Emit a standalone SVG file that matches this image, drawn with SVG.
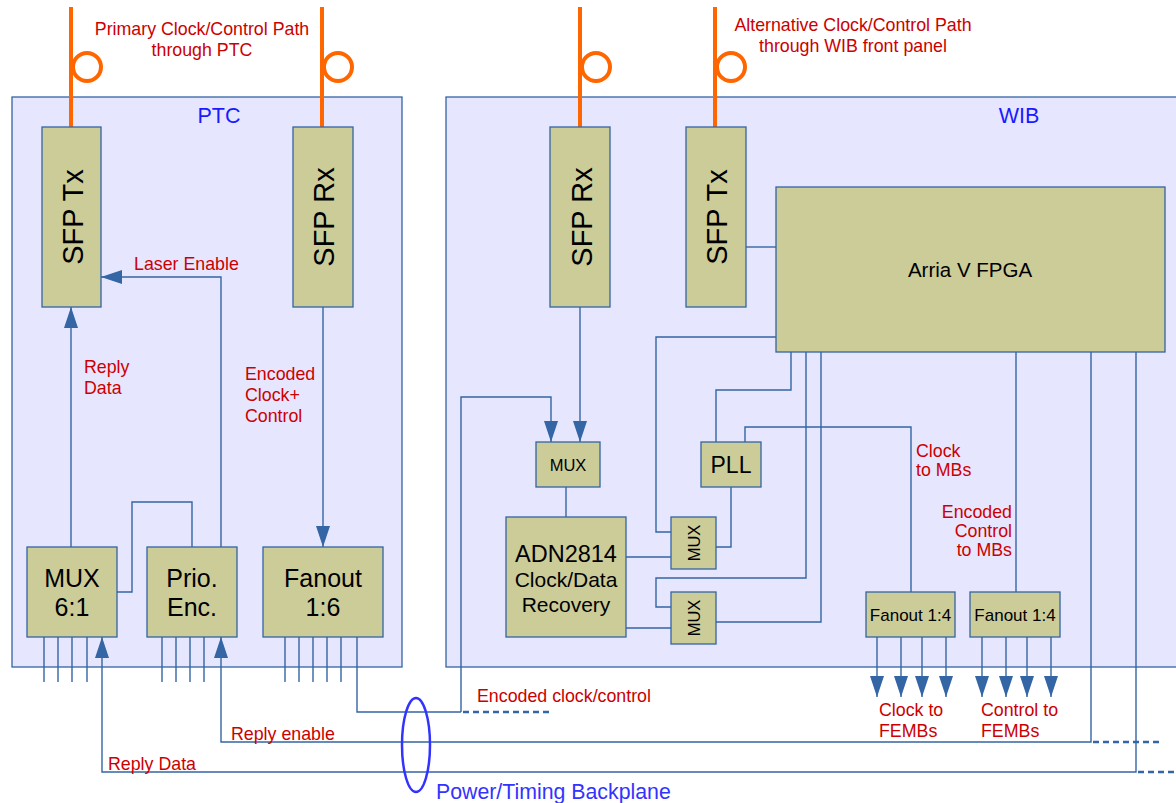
<svg xmlns="http://www.w3.org/2000/svg" width="1176" height="803" viewBox="0 0 1176 803">
<defs>
<style>
.cont{fill:#e6e6ff;stroke:#3465a4;stroke-width:1.3}
.box{fill:#cccc99;stroke:#3465a4;stroke-width:1.3}
.ln{fill:none;stroke:#3465a4;stroke-width:1.4}
.dash{fill:none;stroke:#3465a4;stroke-width:2.6;stroke-dasharray:6 4}
.fiber{fill:none;stroke:#ff6600;stroke-width:4}
.t{font-family:"Liberation Sans",Arial,sans-serif;fill:#000}
.red{font-family:"Liberation Sans",Arial,sans-serif;fill:#cc0000;font-size:17.8px}
.blue{font-family:"Liberation Sans",Arial,sans-serif;fill:#1a1aff}
.mid{text-anchor:middle}
</style>
<marker id="ah" markerUnits="userSpaceOnUse" markerWidth="21" markerHeight="14" refX="21" refY="7" orient="auto">
<path d="M0,0 L21,7 L0,14 z" fill="#3465a4"/>
</marker>
</defs>
<rect width="1176" height="803" fill="#ffffff"/>

<g id="ptc">
<rect class="cont" x="12" y="97" width="390" height="570"/>
<text class="blue mid" x="219" y="123" font-size="21.5">PTC</text>
</g>
<g id="wib">
<rect class="cont" x="446" y="97" width="740" height="570"/>
<text class="blue mid" x="1019" y="123" font-size="21.5">WIB</text>
</g>

<g id="fibers">
<line class="fiber" x1="71" y1="7" x2="71" y2="127"/>
<circle class="fiber" cx="87" cy="67" r="14"/>
<line class="fiber" x1="322" y1="7" x2="322" y2="127"/>
<circle class="fiber" cx="338" cy="67" r="14"/>
<line class="fiber" x1="580" y1="7" x2="580" y2="127"/>
<circle class="fiber" cx="596" cy="67" r="14"/>
<line class="fiber" x1="715" y1="7" x2="715" y2="127"/>
<circle class="fiber" cx="731" cy="67" r="14"/>
</g>

<g id="connectors">
<path class="ln" d="M71,547 V307" marker-end="url(#ah)"/>
<path class="ln" d="M221,547 V277 H101" marker-end="url(#ah)"/>
<path class="ln" d="M117,592 H132 V502 H192 V547"/>
<path class="ln" d="M323,307 V547" marker-end="url(#ah)"/>
<path class="ln" d="M44,637 V682 M58,637 V682 M72,637 V682 M87,637 V682"/>
<path class="ln" d="M162,637 V682 M176,637 V682 M190,637 V682 M204,637 V682"/>
<path class="ln" d="M285,637 V682 M299,637 V682 M313,637 V682 M327,637 V682 M341,637 V682"/>
<path class="ln" d="M357,637 V712 H461"/>
<path class="dash" d="M463,712 H552"/>
<path class="ln" d="M461,712 V397 H551 V442" marker-end="url(#ah)"/>
<path class="ln" d="M580,307 V442" marker-end="url(#ah)"/>
<path class="ln" d="M566,487 V517"/>
<path class="ln" d="M626,557 H671"/>
<path class="ln" d="M626,628 H671"/>
<path class="ln" d="M776,337 H656 V532 H671"/>
<path class="ln" d="M791,352 V390 H716 V442"/>
<path class="ln" d="M806,352 V578 H656 V607 H671"/>
<path class="ln" d="M821,352 V622 H716"/>
<path class="ln" d="M731,487 V547 H716"/>
<path class="ln" d="M745,442 V427 H911 V592"/>
<path class="ln" d="M1016,352 V592"/>
<path class="ln" d="M746,247 H776"/>
<path class="ln" d="M1091,352 V742 H221 V637" marker-end="url(#ah)"/>
<path class="dash" d="M1093,742 H1162"/>
<path class="ln" d="M1136,352 V772 H102 V637" marker-end="url(#ah)"/>
<path class="dash" d="M1138,772 H1176"/>
<path class="ln" d="M877,637 V697" marker-end="url(#ah)"/>
<path class="ln" d="M901,637 V697" marker-end="url(#ah)"/>
<path class="ln" d="M922,637 V697" marker-end="url(#ah)"/>
<path class="ln" d="M946,637 V697" marker-end="url(#ah)"/>
<path class="ln" d="M982,637 V697" marker-end="url(#ah)"/>
<path class="ln" d="M1006,637 V697" marker-end="url(#ah)"/>
<path class="ln" d="M1027,637 V697" marker-end="url(#ah)"/>
<path class="ln" d="M1051,637 V697" marker-end="url(#ah)"/>
</g>

<g id="ptc-sfp-tx">
<rect class="box" x="42" y="127" width="59" height="180"/>
<text class="t mid" font-size="29" transform="translate(83,217) rotate(-90)">SFP Tx</text>
</g>
<g id="ptc-sfp-rx">
<rect class="box" x="293" y="127" width="60" height="180"/>
<text class="t mid" font-size="29" transform="translate(334,217) rotate(-90)">SFP Rx</text>
</g>
<g id="ptc-mux">
<rect class="box" x="27" y="547" width="90" height="90"/>
<text class="t mid" font-size="25" x="72" y="587">MUX</text>
<text class="t mid" font-size="25" x="72" y="616">6:1</text>
</g>
<g id="ptc-prio">
<rect class="box" x="147" y="547" width="90" height="90"/>
<text class="t mid" font-size="25" x="192" y="587">Prio.</text>
<text class="t mid" font-size="25" x="192" y="616">Enc.</text>
</g>
<g id="ptc-fanout">
<rect class="box" x="263" y="547" width="120" height="90"/>
<text class="t mid" font-size="25" x="323" y="587">Fanout</text>
<text class="t mid" font-size="25" x="323" y="616">1:6</text>
</g>

<g id="wib-sfp-rx">
<rect class="box" x="550" y="127" width="60" height="180"/>
<text class="t mid" font-size="29" transform="translate(592,217) rotate(-90)">SFP Rx</text>
</g>
<g id="wib-sfp-tx">
<rect class="box" x="686" y="127" width="60" height="180"/>
<text class="t mid" font-size="29" transform="translate(727,217) rotate(-90)">SFP Tx</text>
</g>
<g id="fpga">
<rect class="box" x="776" y="187" width="389" height="165"/>
<text class="t mid" font-size="20.5" x="970" y="277">Arria V FPGA</text>
</g>
<g id="wib-mux">
<rect class="box" x="536" y="442" width="64" height="45"/>
<text class="t mid" font-size="16.5" x="568" y="471">MUX</text>
</g>
<g id="pll">
<rect class="box" x="701" y="442" width="60" height="45"/>
<text class="t mid" font-size="23" x="731" y="473">PLL</text>
</g>
<g id="adn2814">
<rect class="box" x="506" y="517" width="120" height="120"/>
<text class="t mid" font-size="23.5" x="566" y="562">ADN2814</text>
<text class="t mid" font-size="21" x="566" y="587">Clock/Data</text>
<text class="t mid" font-size="21" x="566" y="612">Recovery</text>
</g>
<g id="mux-upper">
<rect class="box" x="671" y="517" width="45" height="52"/>
<text class="t mid" font-size="16.5" transform="translate(700,543) rotate(-90)">MUX</text>
</g>
<g id="mux-lower">
<rect class="box" x="671" y="592" width="45" height="52"/>
<text class="t mid" font-size="16.5" transform="translate(700,618) rotate(-90)">MUX</text>
</g>
<g id="fanout-clock">
<rect class="box" x="866" y="592" width="89" height="45"/>
<text class="t mid" font-size="17" x="910.5" y="621">Fanout 1:4</text>
</g>
<g id="fanout-control">
<rect class="box" x="970" y="592" width="90" height="45"/>
<text class="t mid" font-size="17" x="1015" y="621">Fanout 1:4</text>
</g>

<g id="backplane">
<ellipse cx="416" cy="745" rx="14" ry="47" fill="none" stroke="#3333ff" stroke-width="2.5"/>
<text x="436" y="799" font-size="21.3" font-family="Liberation Sans, Arial, sans-serif" fill="#3333ff">Power/Timing Backplane</text>
</g>

<g id="labels">
<text class="red mid" x="202" y="35">Primary Clock/Control Path</text>
<text class="red mid" x="202" y="56">through PTC</text>
<text class="red mid" x="853" y="31">Alternative Clock/Control Path</text>
<text class="red mid" x="853" y="52">through WIB front panel</text>
<text class="red" x="134" y="270">Laser Enable</text>
<text class="red" x="84" y="373">Reply</text>
<text class="red" x="84" y="394">Data</text>
<text class="red" x="245" y="380">Encoded</text>
<text class="red" x="245" y="401">Clock+</text>
<text class="red" x="245" y="422">Control</text>
<text class="red" x="231" y="740">Reply enable</text>
<text class="red" x="108" y="770">Reply Data</text>
<text class="red" x="477" y="702">Encoded clock/control</text>
<text class="red" x="916" y="457">Clock</text>
<text class="red" x="916" y="476">to MBs</text>
<text class="red" x="1012" y="518" text-anchor="end">Encoded</text>
<text class="red" x="1012" y="537" text-anchor="end">Control</text>
<text class="red" x="1012" y="556" text-anchor="end">to MBs</text>
<text class="red" x="879" y="716">Clock to</text>
<text class="red" x="879" y="737">FEMBs</text>
<text class="red" x="981" y="716">Control to</text>
<text class="red" x="981" y="737">FEMBs</text>
</g>
</svg>
